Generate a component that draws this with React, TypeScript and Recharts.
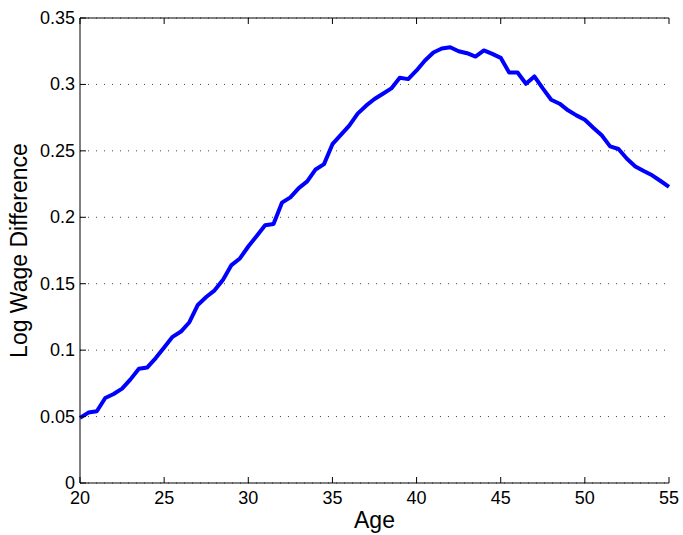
import { CartesianGrid, Line, LineChart, XAxis, YAxis } from "recharts";

const ages = [
  20, 20.5, 21, 21.5, 22, 22.5, 23, 23.5, 24, 24.5, 25, 25.5, 26, 26.5, 27, 27.5, 28, 28.5,
  29, 29.5, 30, 30.5, 31, 31.5, 32, 32.5, 33, 33.5, 34, 34.5, 35, 35.5, 36, 36.5, 37, 37.5,
  38, 38.5, 39, 39.5, 40, 40.5, 41, 41.5, 42, 42.5, 43, 43.5, 44, 44.5, 45, 45.5, 46, 46.5,
  47, 47.5, 48, 48.5, 49, 49.5, 50, 50.5, 51, 51.5, 52, 52.5, 53, 53.5, 54, 54.5, 55,
];

const logWageGap = [
  0.049, 0.053, 0.054, 0.064, 0.067, 0.071, 0.078, 0.086, 0.087, 0.094, 0.102, 0.11, 0.114,
  0.121, 0.134, 0.14, 0.145, 0.153, 0.164, 0.169, 0.178, 0.186, 0.194, 0.195, 0.211, 0.215,
  0.222, 0.227, 0.236, 0.24, 0.255, 0.262, 0.269, 0.278, 0.284, 0.289, 0.293, 0.297, 0.305,
  0.304, 0.3105, 0.318, 0.324, 0.327, 0.328, 0.325, 0.3235, 0.321, 0.3256, 0.323, 0.32,
  0.309, 0.309, 0.3005, 0.306, 0.297, 0.2885, 0.2855, 0.2805, 0.2767, 0.2734, 0.2674, 0.2617,
  0.2534, 0.2514, 0.2441, 0.2383, 0.2348, 0.2316, 0.2273, 0.2228,
];

const ageTicks = [20, 25, 30, 35, 40, 45, 50, 55];
const gapTicks = [0, 0.05, 0.1, 0.15, 0.2, 0.25, 0.3, 0.35];

const title = "Log Wage Difference: College vs. High School, by Age";

const data = ages.map((age, i) => ({ age, gap: logWageGap[i] }));

const font = "'Liberation Sans', Arial, Helvetica, sans-serif";
const tickLen = 6;

// matlab-style ticks pointing into the plot box
const BottomTick = ({ x, y, payload }: any) => (
  <g>
    <line x1={x} y1={y} x2={x} y2={y - tickLen} stroke="#000" />
    <text x={x} y={y + 21} textAnchor="middle" fontSize={18} fill="#000" fontFamily={font}>
      {payload.value}
    </text>
  </g>
);

const TopTick = ({ x, y }: any) => <line x1={x} y1={y} x2={x} y2={y + tickLen} stroke="#000" />;

const LeftTick = ({ x, y, payload }: any) => (
  <g>
    <line x1={x} y1={y} x2={x + tickLen} y2={y} stroke="#000" />
    <text x={x - 5} y={y + 6} textAnchor="end" fontSize={18} fill="#000" fontFamily={font}>
      {payload.value}
    </text>
  </g>
);

const RightTick = ({ x, y }: any) => <line x1={x} y1={y} x2={x - tickLen} y2={y} stroke="#000" />;

// title sits above the figure edge, only its descenders peek in
const TitleLabel = ({ viewBox }: any) => {
  const cx = viewBox.x + viewBox.width / 2;
  return (
    <text x={cx} y={-5} textAnchor="middle" fontSize={23} fill="#000" fontFamily={font}>
      {title}
    </text>
  );
};

export default function App() {
  return (
    <div style={{ position: "absolute", left: 0, top: 0, background: "#fff" }}>
      <LineChart
        width={683}
        height={535}
        data={data}
        margin={{ top: 17, right: 14, left: 0, bottom: 0 }}
        style={{ fontFamily: font }}
      >
        <CartesianGrid
          vertical={false}
          stroke="#444"
          strokeDasharray="1 7"
          horizontalValues={gapTicks}
        />
        <XAxis
          dataKey="age"
          type="number"
          domain={[20, 55]}
          ticks={ageTicks}
          height={52}
          tickSize={0}
          tickMargin={0}
          tickLine={false}
          axisLine={{ stroke: "#000" }}
          tick={<BottomTick />}
          label={{ value: "Age", position: "insideBottom", offset: 7, fontSize: 23, fill: "#000" }}
        />
        <XAxis
          xAxisId="top"
          orientation="top"
          dataKey="age"
          type="number"
          domain={[20, 55]}
          ticks={ageTicks}
          height={1}
          tickSize={0}
          tickMargin={0}
          tickLine={false}
          axisLine={{ stroke: "#000" }}
          tick={<TopTick />}
          label={<TitleLabel />}
        />
        <YAxis
          type="number"
          domain={[0, 0.35]}
          ticks={gapTicks}
          width={80}
          tickSize={0}
          tickMargin={0}
          tickLine={false}
          axisLine={{ stroke: "#000" }}
          tick={<LeftTick />}
          label={{
            value: "Log Wage Difference",
            angle: -90,
            position: "center",
            dx: -21,
            fontSize: 23,
            fill: "#000",
          }}
        />
        <YAxis
          yAxisId="right"
          orientation="right"
          type="number"
          domain={[0, 0.35]}
          ticks={gapTicks}
          width={0}
          tickSize={0}
          tickMargin={0}
          tickLine={false}
          axisLine={{ stroke: "#000" }}
          tick={<RightTick />}
        />
        <Line
          type="linear"
          dataKey="gap"
          stroke="#0000ff"
          strokeWidth={4}
          strokeLinejoin="round"
          dot={false}
          activeDot={false}
          isAnimationActive={false}
        />
      </LineChart>
    </div>
  );
}
